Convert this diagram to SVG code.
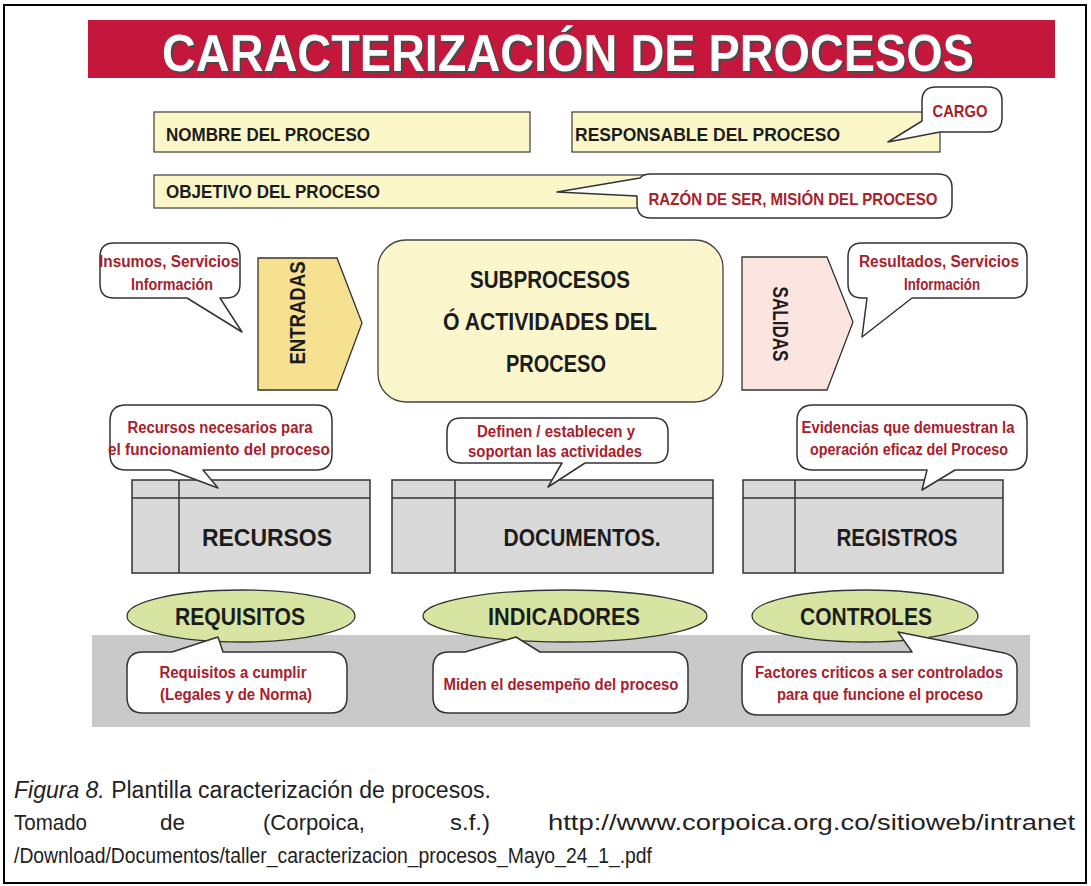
<svg xmlns="http://www.w3.org/2000/svg" width="1091" height="886" viewBox="0 0 1091 886">
<style>
.b{font-family:"Liberation Sans",Arial,sans-serif;font-weight:bold;fill:#1c1c1c}
.r{font-family:"Liberation Sans",Arial,sans-serif;font-weight:bold;fill:#A8202A}
.cap{font-family:"Liberation Sans",Arial,sans-serif;fill:#222;font-size:22px}
.box{fill:#FCF7C9;stroke:#4a4a4a;stroke-width:1.3}
.call{fill:#fff;stroke:#333;stroke-width:1.5;stroke-linejoin:round}
.tbl{fill:#D9D9D9;stroke:#333;stroke-width:1.5}
.ln{stroke:#333;stroke-width:1.5}
.ell{fill:#D8E5A2;stroke:#333;stroke-width:1.3}
</style>
<rect x="0" y="0" width="1091" height="886" fill="#fff"/>
<rect x="4" y="5" width="1082" height="878" fill="none" stroke="#000" stroke-width="2"/>

<g id="title">
<rect x="88" y="20" width="967" height="58" fill="#C5173B"/>
<text class="b" x="570" y="73" font-size="52" text-anchor="middle" textLength="812" lengthAdjust="spacingAndGlyphs" style="fill:#4a4a4a">CARACTERIZACIÓN DE PROCESOS</text>
<text class="b" x="568" y="71" font-size="52" text-anchor="middle" textLength="812" lengthAdjust="spacingAndGlyphs" style="fill:#fff">CARACTERIZACIÓN DE PROCESOS</text>
</g>

<g id="nombre">
<rect class="box" x="154" y="112" width="376" height="40"/>
<text class="b" x="166" y="141" font-size="19" textLength="204" lengthAdjust="spacingAndGlyphs">NOMBRE DEL PROCESO</text>
</g>
<g id="responsable">
<rect class="box" x="572" y="112" width="368" height="40"/>
<text class="b" x="575" y="141" font-size="19" textLength="265" lengthAdjust="spacingAndGlyphs">RESPONSABLE DEL PROCESO</text>
</g>
<g id="cargo">
<path class="call" d="M 936,87 H 988 Q 1002,87 1002,101 V 118 Q 1002,132 988,132 H 940 L 888,142 L 922,121 V 101 Q 922,87 936,87 Z"/>
<text class="r" x="960" y="117" font-size="17" text-anchor="middle" textLength="55" lengthAdjust="spacingAndGlyphs">CARGO</text>
</g>
<g id="objetivo">
<rect class="box" x="154" y="175" width="546" height="33"/>
<text class="b" x="166" y="198" font-size="19" textLength="214" lengthAdjust="spacingAndGlyphs">OBJETIVO DEL PROCESO</text>
</g>
<g id="razon">
<path class="call" d="M 651,174 H 938 Q 952,174 952,188 V 204 Q 952,218 938,218 H 651 Q 637,218 637,204 V 196 L 557,192 L 640,178 Q 643,174 651,174 Z"/>
<text class="r" x="793" y="205" font-size="17" text-anchor="middle" textLength="289" lengthAdjust="spacingAndGlyphs">RAZÓN DE SER, MISIÓN DEL PROCESO</text>
</g>

<g id="insumos">
<path class="call" d="M 114,243 H 226 Q 240,243 240,257 V 284 Q 240,298 226,298 H 220 L 242,332 L 187,298 H 114 Q 100,298 100,284 V 257 Q 100,243 114,243 Z"/>
<text class="r" x="169" y="267" font-size="16" text-anchor="middle" textLength="140" lengthAdjust="spacingAndGlyphs">Insumos, Servicios</text>
<text class="r" x="172" y="290" font-size="16" text-anchor="middle" textLength="82" lengthAdjust="spacingAndGlyphs">Información</text>
</g>
<g id="entradas">
<polygon points="258,258 337,258 362,323 337,390 258,390" fill="#F5E18F" stroke="#333" stroke-width="1.3"/>
<text class="b" transform="translate(305,313) rotate(-90)" font-size="22" text-anchor="middle" textLength="103" lengthAdjust="spacingAndGlyphs">ENTRADAS</text>
</g>
<g id="subprocesos">
<rect x="378" y="240" width="345" height="162" rx="28" fill="#FBF6CC" stroke="#444" stroke-width="1.3"/>
<text class="b" x="550" y="288" font-size="23" text-anchor="middle" textLength="160" lengthAdjust="spacingAndGlyphs">SUBPROCESOS</text>
<text class="b" x="550" y="330" font-size="23" text-anchor="middle" textLength="214" lengthAdjust="spacingAndGlyphs">Ó ACTIVIDADES DEL</text>
<text class="b" x="556" y="372" font-size="23" text-anchor="middle" textLength="100" lengthAdjust="spacingAndGlyphs">PROCESO</text>
</g>
<g id="salidas">
<polygon points="742,257 827,257 853,322 827,390 742,390" fill="#FCE5E0" stroke="#333" stroke-width="1.3"/>
<text class="b" transform="translate(773,324) rotate(90)" font-size="22" text-anchor="middle" textLength="75" lengthAdjust="spacingAndGlyphs">SALIDAS</text>
</g>
<g id="resultados">
<path class="call" d="M 862,243 H 1013 Q 1027,243 1027,257 V 284 Q 1027,298 1013,298 H 912 L 862,337 L 867,298 H 862 Q 848,298 848,284 V 257 Q 848,243 862,243 Z"/>
<text class="r" x="939" y="267" font-size="16" text-anchor="middle" textLength="160" lengthAdjust="spacingAndGlyphs">Resultados, Servicios</text>
<text class="r" x="942" y="290" font-size="16" text-anchor="middle" textLength="76" lengthAdjust="spacingAndGlyphs">Información</text>
</g>

<g id="recursos">
<rect class="tbl" x="132" y="480" width="238" height="93"/>
<line class="ln" x1="132" y1="498" x2="370" y2="498"/>
<line class="ln" x1="179" y1="480" x2="179" y2="573"/>
<text class="b" x="267" y="546" font-size="24" text-anchor="middle" textLength="130" lengthAdjust="spacingAndGlyphs">RECURSOS</text>
</g>
<g id="documentos">
<rect class="tbl" x="392" y="480" width="321" height="93"/>
<line class="ln" x1="392" y1="498" x2="713" y2="498"/>
<line class="ln" x1="455" y1="480" x2="455" y2="573"/>
<text class="b" x="582" y="546" font-size="24" text-anchor="middle" textLength="157" lengthAdjust="spacingAndGlyphs">DOCUMENTOS.</text>
</g>
<g id="registros">
<rect class="tbl" x="743" y="480" width="260" height="93"/>
<line class="ln" x1="743" y1="498" x2="1003" y2="498"/>
<line class="ln" x1="795" y1="480" x2="795" y2="573"/>
<text class="b" x="897" y="546" font-size="24" text-anchor="middle" textLength="121" lengthAdjust="spacingAndGlyphs">REGISTROS</text>
</g>
<g id="recursos-nota">
<path class="call" d="M 126,405 H 316 Q 332,405 332,421 V 454 Q 332,470 316,470 H 203 L 218,488 L 170,470 H 126 Q 110,470 110,454 V 421 Q 110,405 126,405 Z"/>
<text class="r" x="220" y="433" font-size="16" text-anchor="middle" textLength="185" lengthAdjust="spacingAndGlyphs">Recursos necesarios para</text>
<text class="r" x="219" y="455" font-size="16" text-anchor="middle" textLength="222" lengthAdjust="spacingAndGlyphs">el funcionamiento del proceso</text>
</g>
<g id="documentos-nota">
<path class="call" d="M 461,418 H 654 Q 668,418 668,432 V 449 Q 668,463 654,463 H 585 L 548,487 L 562,463 H 461 Q 447,463 447,449 V 432 Q 447,418 461,418 Z"/>
<text class="r" x="556" y="437" font-size="16" text-anchor="middle" textLength="158" lengthAdjust="spacingAndGlyphs">Definen / establecen y</text>
<text class="r" x="555" y="457" font-size="16" text-anchor="middle" textLength="174" lengthAdjust="spacingAndGlyphs">soportan las actividades</text>
</g>
<g id="registros-nota">
<path class="call" d="M 813,405 H 1011 Q 1027,405 1027,421 V 454 Q 1027,470 1011,470 H 955 L 922,490 L 927,470 H 813 Q 797,470 797,454 V 421 Q 797,405 813,405 Z"/>
<text class="r" x="908" y="433" font-size="16" text-anchor="middle" textLength="213" lengthAdjust="spacingAndGlyphs">Evidencias que demuestran la</text>
<text class="r" x="909" y="455" font-size="16" text-anchor="middle" textLength="198" lengthAdjust="spacingAndGlyphs">operación eficaz del Proceso</text>
</g>

<rect id="banda" x="92" y="635" width="938" height="92" fill="#C9C9C9"/>

<g id="requisitos">
<ellipse class="ell" cx="241" cy="616" rx="114" ry="26"/>
<text class="b" x="240" y="625" font-size="24" text-anchor="middle" textLength="130" lengthAdjust="spacingAndGlyphs">REQUISITOS</text>
</g>
<g id="indicadores">
<ellipse class="ell" cx="565" cy="616" rx="142" ry="26"/>
<text class="b" x="564" y="625" font-size="24" text-anchor="middle" textLength="152" lengthAdjust="spacingAndGlyphs">INDICADORES</text>
</g>
<g id="controles">
<ellipse class="ell" cx="865" cy="616" rx="113" ry="26"/>
<text class="b" x="866" y="625" font-size="24" text-anchor="middle" textLength="132" lengthAdjust="spacingAndGlyphs">CONTROLES</text>
</g>
<g id="requisitos-nota">
<path class="call" d="M 143,652 H 172 L 218,637 L 223,652 H 331 Q 347,652 347,668 V 697 Q 347,713 331,713 H 143 Q 127,713 127,697 V 668 Q 127,652 143,652 Z"/>
<text class="r" x="233" y="678" font-size="16" text-anchor="middle" textLength="147" lengthAdjust="spacingAndGlyphs">Requisitos a cumplir</text>
<text class="r" x="236" y="700" font-size="16" text-anchor="middle" textLength="152" lengthAdjust="spacingAndGlyphs">(Legales y de Norma)</text>
</g>
<g id="indicadores-nota">
<path class="call" d="M 449,652 H 465 L 516,637 L 540,652 H 672 Q 688,652 688,668 V 697 Q 688,713 672,713 H 449 Q 433,713 433,697 V 668 Q 433,652 449,652 Z"/>
<text class="r" x="561" y="690" font-size="16" text-anchor="middle" textLength="235" lengthAdjust="spacingAndGlyphs">Miden el desempeño del proceso</text>
</g>
<g id="controles-nota">
<path class="call" d="M 758,652 H 912 L 898,632 L 1004,653 Q 1017,656 1017,668 V 699 Q 1017,715 1001,715 H 758 Q 742,715 742,699 V 668 Q 742,652 758,652 Z"/>
<text class="r" x="879" y="678" font-size="16" text-anchor="middle" textLength="248" lengthAdjust="spacingAndGlyphs">Factores criticos a ser controlados</text>
<text class="r" x="880" y="700" font-size="16" text-anchor="middle" textLength="206" lengthAdjust="spacingAndGlyphs">para que funcione el proceso</text>
</g>

<g id="caption">
<text class="cap" x="14" y="798" style="font-size:23px"><tspan font-style="italic">Figura 8.</tspan> Plantilla caracterización de procesos.</text>
<text class="cap" x="14" y="830" textLength="73" lengthAdjust="spacingAndGlyphs">Tomado</text>
<text class="cap" x="160" y="830" textLength="25" lengthAdjust="spacingAndGlyphs">de</text>
<text class="cap" x="263" y="830" textLength="102" lengthAdjust="spacingAndGlyphs">(Corpoica,</text>
<text class="cap" x="450" y="830" textLength="40" lengthAdjust="spacingAndGlyphs">s.f.)</text>
<text class="cap" x="548" y="830" textLength="527" lengthAdjust="spacingAndGlyphs">http://www.corpoica.org.co/sitioweb/intranet</text>
<text class="cap" x="14" y="863" textLength="638" lengthAdjust="spacingAndGlyphs">/Download/Documentos/taller_caracterizacion_procesos_Mayo_24_1_.pdf</text>
</g>
</svg>
